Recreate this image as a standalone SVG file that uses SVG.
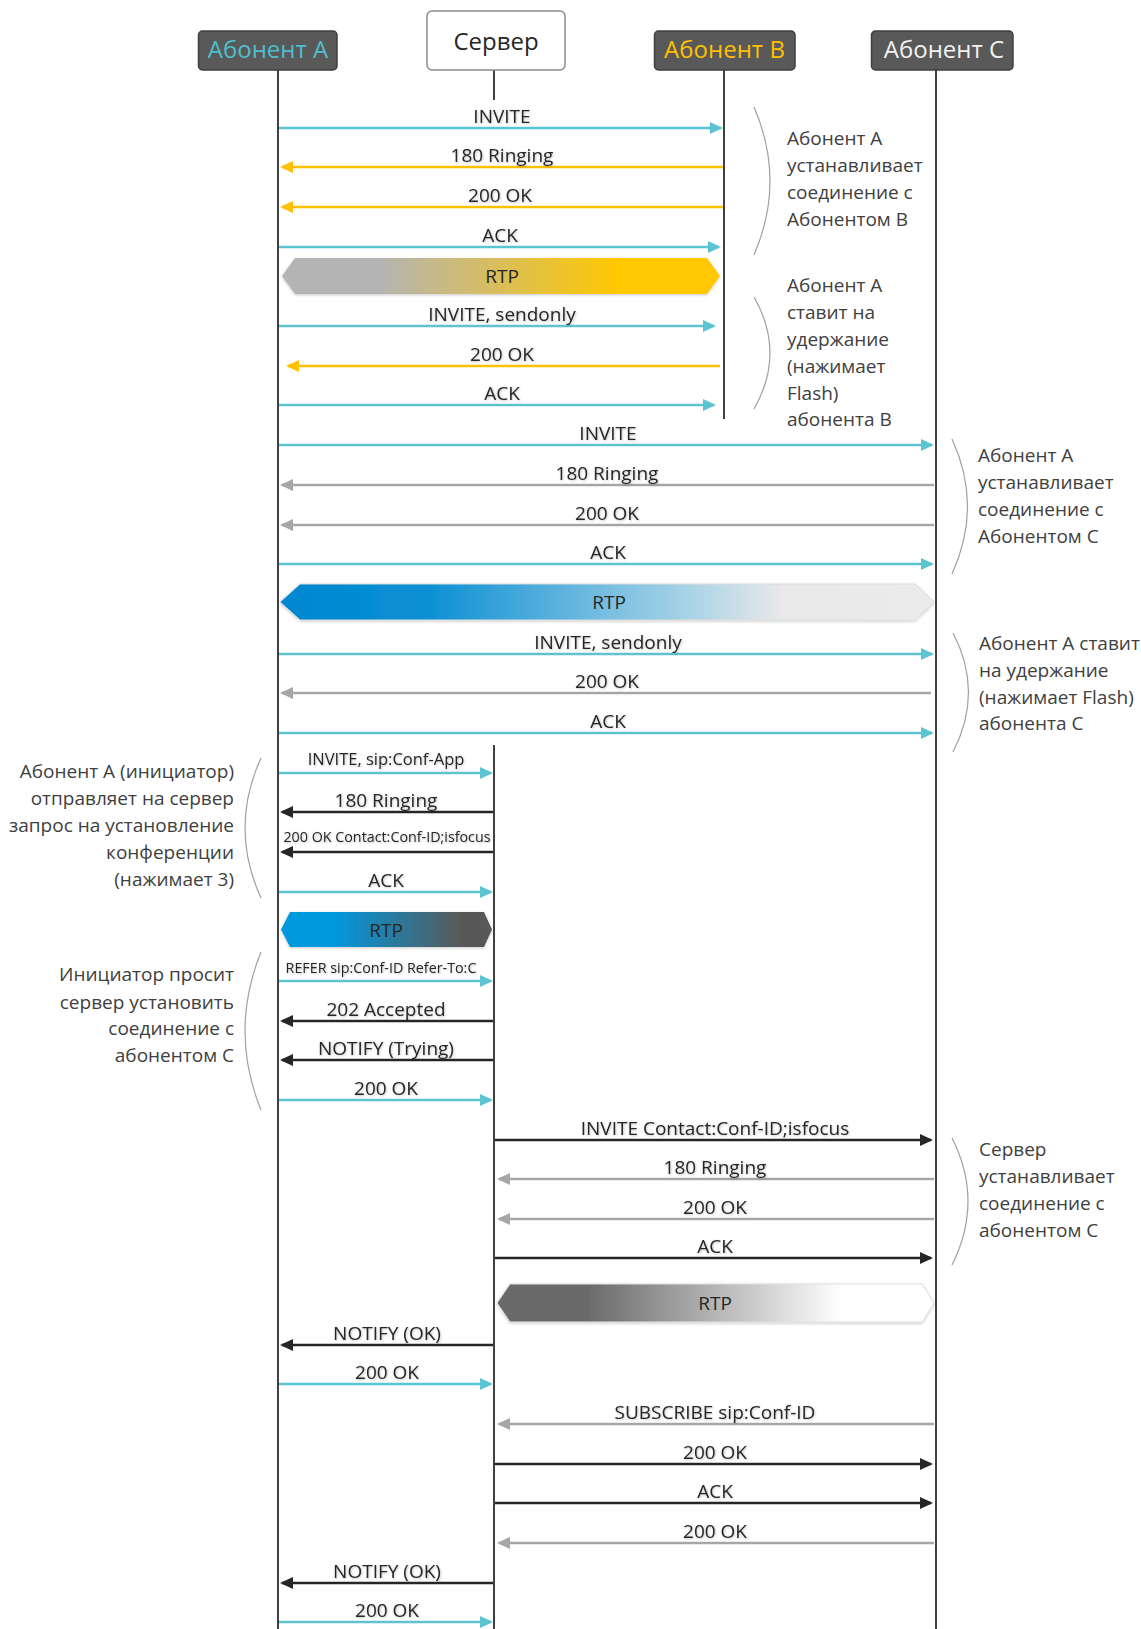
<svg xmlns="http://www.w3.org/2000/svg" width="1141" height="1629" viewBox="0 0 1141 1629">
<style>
.hdr{fill:#595959;stroke:#3f3f3f;stroke-width:1.5}
.srv{fill:#ffffff;stroke:#8c8c8c;stroke-width:1.5}
.htxt{font-family:"Open Sans","Noto Sans",sans-serif;font-size:24px;text-anchor:middle}
.life{stroke:#404040;stroke-width:2;fill:none}
.cy{stroke:#5cc4d0;stroke-width:2.5;fill:none;marker-end:url(#mCy)}
.ye{stroke:#ffc000;stroke-width:2.5;fill:none;marker-end:url(#mYe)}
.gr{stroke:#a6a6a6;stroke-width:2.5;fill:none;marker-end:url(#mGr)}
.bk{stroke:#262626;stroke-width:2.5;fill:none;marker-end:url(#mBk)}
.lbl{font-family:"Open Sans","Noto Sans",sans-serif;font-size:19px;fill:#262626;text-anchor:middle;filter:url(#ts)}
.sm{font-size:14.3px}
.md{font-size:16.5px}
.ann{font-family:"Open Sans","Noto Sans",sans-serif;font-size:19px;fill:#404040}
.annR{text-anchor:end}
.brk{stroke:#a0a0a0;stroke-width:1.2;fill:none}
.band{filter:url(#sh)}
.rtp{font-family:"Open Sans","Noto Sans",sans-serif;font-size:19px;fill:#262626;text-anchor:middle}
</style>
<defs>
<marker id="mCy" markerUnits="userSpaceOnUse" markerWidth="14" markerHeight="14" refX="11" refY="6" orient="auto"><path d="M0,0 L13,6 L0,12 z" fill="#5cc4d0"/></marker>
<marker id="mYe" markerUnits="userSpaceOnUse" markerWidth="14" markerHeight="14" refX="11" refY="6" orient="auto"><path d="M0,0 L13,6 L0,12 z" fill="#ffc000"/></marker>
<marker id="mGr" markerUnits="userSpaceOnUse" markerWidth="14" markerHeight="14" refX="11" refY="6" orient="auto"><path d="M0,0 L13,6 L0,12 z" fill="#a6a6a6"/></marker>
<marker id="mBk" markerUnits="userSpaceOnUse" markerWidth="14" markerHeight="14" refX="11" refY="6" orient="auto"><path d="M0,0 L13,6 L0,12 z" fill="#262626"/></marker>
<filter id="ts" x="-5%" y="-30%" width="110%" height="160%"><feDropShadow dx="0.8" dy="0.8" stdDeviation="0.8" flood-color="#000" flood-opacity="0.25"/></filter>
<filter id="sh" x="-5%" y="-30%" width="110%" height="160%"><feDropShadow dx="0" dy="1" stdDeviation="1.5" flood-color="#000" flood-opacity="0.22"/></filter>
<linearGradient id="g1" gradientUnits="userSpaceOnUse" x1="282" y1="0" x2="720" y2="0"><stop offset="0" stop-color="#b4b4b4"/><stop offset="0.22" stop-color="#b4b4b4"/><stop offset="0.77" stop-color="#ffc800"/><stop offset="1" stop-color="#ffc800"/></linearGradient>
<linearGradient id="g2" gradientUnits="userSpaceOnUse" x1="280" y1="0" x2="934" y2="0"><stop offset="0" stop-color="#0088d0"/><stop offset="0.22" stop-color="#0a8fd3"/><stop offset="0.6" stop-color="#9fcfe5"/><stop offset="0.77" stop-color="#e9e9e9"/><stop offset="1" stop-color="#ebebeb"/></linearGradient>
<linearGradient id="g3" gradientUnits="userSpaceOnUse" x1="281" y1="0" x2="492" y2="0"><stop offset="0" stop-color="#0099de"/><stop offset="0.25" stop-color="#0099de"/><stop offset="0.85" stop-color="#595959"/><stop offset="1" stop-color="#595959"/></linearGradient>
<linearGradient id="g4" gradientUnits="userSpaceOnUse" x1="497" y1="0" x2="934" y2="0"><stop offset="0" stop-color="#6b6b6b"/><stop offset="0.21" stop-color="#6b6b6b"/><stop offset="0.79" stop-color="#ffffff"/><stop offset="1" stop-color="#ffffff"/></linearGradient>
</defs>
<rect width="1141" height="1629" fill="#ffffff"/>

<g id="lifelines">
<line class="life" x1="278" y1="70" x2="278" y2="1629"/>
<line class="life" x1="494" y1="70" x2="494" y2="100"/>
<line class="life" x1="494" y1="745" x2="494" y2="1629"/>
<line class="life" x1="724" y1="70" x2="724" y2="419"/>
<line class="life" x1="936" y1="70" x2="936" y2="1629"/>
</g>

<g id="node-a"><rect class="hdr" x="198.5" y="31" width="138.5" height="39" rx="4"/><text class="htxt" x="268" y="58" fill="#4fbfcc">Абонент А</text></g>
<g id="node-server"><rect class="srv" x="427" y="11" width="138" height="59" rx="5"/><text class="htxt" x="496" y="50" fill="#262626">Сервер</text></g>
<g id="node-b"><rect class="hdr" x="654.5" y="31" width="140.5" height="39" rx="4"/><text class="htxt" x="724.5" y="58" fill="#ffc000">Абонент В</text></g>
<g id="node-c"><rect class="hdr" x="871.5" y="31" width="141.5" height="39" rx="4"/><text class="htxt" x="944" y="58" fill="#f2f2f2">Абонент С</text></g>

<g id="rtp-bands">
<g id="rtp1"><polygon class="band" points="282,276 295,258 707,258 720,276 707,294 295,294" fill="url(#g1)"/><text class="rtp" x="502" y="283">RTP</text></g>
<g id="rtp2"><polygon class="band" points="280,602 300,584 915,584 934,602 915,620 300,620" fill="url(#g2)" stroke="#dcdcdc" stroke-width="1"/><text class="rtp" x="609" y="609">RTP</text></g>
<g id="rtp3"><polygon class="band" points="281,929.5 290,912 484,912 492,929.5 484,947 290,947" fill="url(#g3)"/><text class="rtp" x="386" y="936.5">RTP</text></g>
<g id="rtp4"><polygon class="band" points="497,1303 510,1284 922,1284 934,1303 922,1322 510,1322" fill="url(#g4)" stroke="#e0e0e0" stroke-width="1"/><text class="rtp" x="715" y="1310" fill="#404040">RTP</text></g>
</g>

<g id="connectors">
<line class="cy" x1="279" y1="128" x2="721" y2="128"/>
<line class="ye" x1="723" y1="167" x2="282" y2="167"/>
<line class="ye" x1="723" y1="207" x2="282" y2="207"/>
<line class="cy" x1="279" y1="247" x2="719" y2="247"/>
<line class="cy" x1="279" y1="326" x2="714" y2="326"/>
<line class="ye" x1="720" y1="366" x2="288" y2="366"/>
<line class="cy" x1="279" y1="405" x2="714" y2="405"/>

<line class="cy" x1="279" y1="445" x2="932" y2="445"/>
<line class="gr" x1="934" y1="485" x2="282" y2="485"/>
<line class="gr" x1="934" y1="525" x2="282" y2="525"/>
<line class="cy" x1="279" y1="564" x2="932" y2="564"/>
<line class="cy" x1="279" y1="654" x2="932" y2="654"/>
<line class="gr" x1="931" y1="693" x2="282" y2="693"/>
<line class="cy" x1="279" y1="733" x2="932" y2="733"/>

<line class="cy" x1="279" y1="773" x2="491" y2="773"/>
<line class="bk" x1="493" y1="812" x2="282" y2="812"/>
<line class="bk" x1="493" y1="852" x2="282" y2="852"/>
<line class="cy" x1="279" y1="892" x2="491" y2="892"/>
<line class="cy" x1="279" y1="981" x2="491" y2="981"/>
<line class="bk" x1="493" y1="1021" x2="282" y2="1021"/>
<line class="bk" x1="493" y1="1060" x2="282" y2="1060"/>
<line class="cy" x1="279" y1="1100" x2="491" y2="1100"/>

<line class="bk" x1="495" y1="1140" x2="931" y2="1140"/>
<line class="gr" x1="934" y1="1179" x2="499" y2="1179"/>
<line class="gr" x1="934" y1="1219" x2="499" y2="1219"/>
<line class="bk" x1="495" y1="1258" x2="931" y2="1258"/>

<line class="bk" x1="493" y1="1345" x2="282" y2="1345"/>
<line class="cy" x1="279" y1="1384" x2="491" y2="1384"/>
<line class="gr" x1="934" y1="1424" x2="499" y2="1424"/>
<line class="bk" x1="495" y1="1464" x2="931" y2="1464"/>
<line class="bk" x1="495" y1="1503" x2="931" y2="1503"/>
<line class="gr" x1="934" y1="1543" x2="499" y2="1543"/>
<line class="bk" x1="493" y1="1583" x2="282" y2="1583"/>
<line class="cy" x1="279" y1="1622" x2="491" y2="1622"/>
</g>

<g id="labels">
<text class="lbl" x="502" y="123">INVITE</text>
<text class="lbl" x="502" y="162">180 Ringing</text>
<text class="lbl" x="500" y="202">200 OK</text>
<text class="lbl" x="500" y="242">ACK</text>
<text class="lbl" x="502" y="321">INVITE, sendonly</text>
<text class="lbl" x="502" y="361">200 OK</text>
<text class="lbl" x="502" y="400">ACK</text>

<text class="lbl" x="608" y="440">INVITE</text>
<text class="lbl" x="607" y="480">180 Ringing</text>
<text class="lbl" x="607" y="520">200 OK</text>
<text class="lbl" x="608" y="559">ACK</text>
<text class="lbl" x="608" y="649">INVITE, sendonly</text>
<text class="lbl" x="607" y="688">200 OK</text>
<text class="lbl" x="608" y="728">ACK</text>

<text class="lbl md" x="386" y="765">INVITE, sip:Conf-App</text>
<text class="lbl" x="386" y="807">180 Ringing</text>
<text class="lbl sm" x="387" y="842">200 OK Contact:Conf-ID;isfocus</text>
<text class="lbl" x="386" y="887">ACK</text>
<text class="lbl sm" x="381" y="973">REFER sip:Conf-ID Refer-To:C</text>
<text class="lbl" x="386" y="1016">202 Accepted</text>
<text class="lbl" x="386" y="1055">NOTIFY (Trying)</text>
<text class="lbl" x="386" y="1095">200 OK</text>

<text class="lbl" x="715" y="1135">INVITE Contact:Conf-ID;isfocus</text>
<text class="lbl" x="715" y="1174">180 Ringing</text>
<text class="lbl" x="715" y="1214">200 OK</text>
<text class="lbl" x="715" y="1253">ACK</text>

<text class="lbl" x="387" y="1340">NOTIFY (OK)</text>
<text class="lbl" x="387" y="1379">200 OK</text>
<text class="lbl" x="715" y="1419">SUBSCRIBE sip:Conf-ID</text>
<text class="lbl" x="715" y="1459">200 OK</text>
<text class="lbl" x="715" y="1498">ACK</text>
<text class="lbl" x="715" y="1538">200 OK</text>
<text class="lbl" x="387" y="1578">NOTIFY (OK)</text>
<text class="lbl" x="387" y="1617">200 OK</text>
</g>

<g id="annotations">
<path class="brk" d="M754,107 Q786,181 754,255"/>
<text class="ann" x="787" y="145">Абонент А</text>
<text class="ann" x="787" y="172">устанавливает</text>
<text class="ann" x="787" y="199">соединение с</text>
<text class="ann" x="787" y="226">Абонентом В</text>

<path class="brk" d="M754,297 Q786,353 754,409"/>
<text class="ann" x="787" y="292">Абонент А</text>
<text class="ann" x="787" y="319">ставит на</text>
<text class="ann" x="787" y="346">удержание</text>
<text class="ann" x="787" y="373">(нажимает</text>
<text class="ann" x="787" y="400">Flash)</text>
<text class="ann" x="787" y="426">абонента В</text>

<path class="brk" d="M952,439 Q983,506 952,574"/>
<text class="ann" x="978" y="462">Абонент А</text>
<text class="ann" x="978" y="489">устанавливает</text>
<text class="ann" x="978" y="516">соединение с</text>
<text class="ann" x="978" y="543">Абонентом С</text>

<path class="brk" d="M953,633 Q984,692 953,752"/>
<text class="ann" x="979" y="650">Абонент А ставит</text>
<text class="ann" x="979" y="677">на удержание</text>
<text class="ann" x="979" y="704">(нажимает Flash)</text>
<text class="ann" x="979" y="730">абонента С</text>

<path class="brk" d="M952,1138 Q984,1201 952,1265"/>
<text class="ann" x="979" y="1156">Сервер</text>
<text class="ann" x="979" y="1183">устанавливает</text>
<text class="ann" x="979" y="1210">соединение с</text>
<text class="ann" x="979" y="1237">абонентом С</text>

<path class="brk" d="M261,758 Q229,828 261,898"/>
<text class="ann annR" x="234" y="778">Абонент А (инициатор)</text>
<text class="ann annR" x="234" y="805">отправляет на сервер</text>
<text class="ann annR" x="234" y="832">запрос на установление</text>
<text class="ann annR" x="234" y="859">конференции</text>
<text class="ann annR" x="234" y="886">(нажимает 3)</text>

<path class="brk" d="M261,952 Q229,1031 261,1110"/>
<text class="ann annR" x="234" y="981">Инициатор просит</text>
<text class="ann annR" x="234" y="1009">сервер установить</text>
<text class="ann annR" x="234" y="1035">соединение с</text>
<text class="ann annR" x="234" y="1062">абонентом С</text>
</g>
</svg>
